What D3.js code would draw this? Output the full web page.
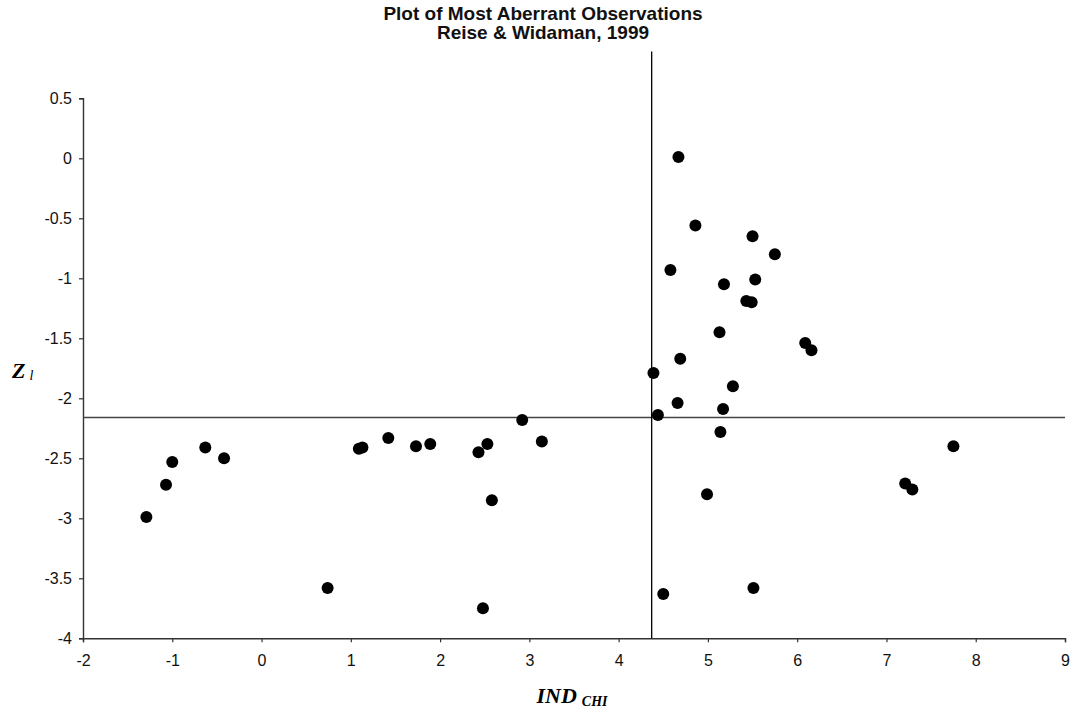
<!DOCTYPE html>
<html>
<head>
<meta charset="utf-8">
<script src="https://cdn.jsdelivr.net/npm/d3@7"></script>
<style>
  body { margin: 0; background: #fff; }
  svg { display: block; }
  .tick text { font-family: "Liberation Sans", Arial, sans-serif; font-size: 16px; fill: #111; }
</style>
</head>
<body>
<script>
// observations (IND chi, Z l)
var indChi = [-1.29, -1.07, -1.00, -0.63, -0.42, 0.74, 1.09, 1.13, 1.42, 1.73, 1.89, 2.43, 2.53, 2.58, 2.48, 2.92, 3.14,
              4.39, 5.28, 4.66, 5.17, 4.44, 5.14, 7.75, 7.21, 7.29, 4.99, 5.51, 4.50,
              4.67, 4.86, 5.50, 5.75, 4.58, 5.18, 5.53, 5.43, 5.49, 5.13, 6.09, 6.16, 4.69];
var zl = [-2.99, -2.72, -2.53, -2.41, -2.50, -3.58, -2.42, -2.41, -2.33, -2.40, -2.38, -2.45, -2.38, -2.85, -3.75, -2.18, -2.36,
          -1.79, -1.90, -2.04, -2.09, -2.14, -2.28, -2.40, -2.71, -2.76, -2.80, -3.58, -3.63,
          0.01, -0.56, -0.65, -0.80, -0.93, -1.05, -1.01, -1.19, -1.20, -1.45, -1.54, -1.60, -1.67];

var xTicks = [-2, -1, 0, 1, 2, 3, 4, 5, 6, 7, 8, 9];
var yTicks = [0.5, 0, -0.5, -1, -1.5, -2, -2.5, -3, -3.5, -4];

// cut-off lines
var cutX = 4.37, cutY = -2.16, cutTop = 0.89;

var W = 1074, H = 717;
var x = d3.scaleLinear().domain([-2, 9]).range([83, 1065]);
var y = d3.scaleLinear().domain([-4, 0.5]).range([638.3, 98.3]);

var svg = d3.select("body").append("svg")
    .attr("width", W)
    .attr("height", H);

// axes
var fmt = function(d){ return String(d); };   // plain hyphen, like the original
var xAxis = svg.append("g")
    .attr("transform", "translate(0," + y(-4) + ")")
    .call(d3.axisBottom(x).tickValues(xTicks).tickSize(4).tickPadding(12).tickFormat(fmt));
var yAxis = svg.append("g")
    .attr("transform", "translate(" + x(-2) + ",0)")
    .call(d3.axisLeft(y).tickValues(yTicks).tickSize(4).tickPadding(7).tickFormat(fmt));

svg.selectAll(".domain").attr("stroke", "#333").attr("stroke-width", 1.4);
svg.selectAll(".tick line").attr("stroke", "#333").attr("stroke-width", 1.2);

// reference lines
svg.append("line")
    .attr("x1", x(-2)).attr("x2", x(9))
    .attr("y1", y(cutY)).attr("y2", y(cutY))
    .attr("stroke", "#444").attr("stroke-width", 1.3);
svg.append("line")
    .attr("x1", x(cutX)).attr("x2", x(cutX))
    .attr("y1", y(cutTop)).attr("y2", y(-4))
    .attr("stroke", "#000").attr("stroke-width", 1.3);

// points
var pts = indChi.map(function(v, i){ return {x: v, y: zl[i]}; });
svg.append("g").selectAll("circle")
    .data(pts).enter()
    .append("circle")
    .attr("cx", function(d){ return x(d.x); })
    .attr("cy", function(d){ return y(d.y); })
    .attr("r", 6)
    .attr("fill", "#000");

// title
var title = svg.append("text")
    .attr("text-anchor", "middle")
    .style("font-family", "'Liberation Sans', Arial, sans-serif")
    .style("font-weight", "bold").style("font-size", "19px")
    .style("fill", "#111");
title.append("tspan").attr("x", 543).attr("y", 20).text("Plot of Most Aberrant Observations");
title.append("tspan").attr("x", 543).attr("y", 39).text("Reise & Widaman, 1999");

// axis titles
var yl = svg.append("text")
    .attr("x", 12).attr("y", 378)
    .style("font-family", "'Liberation Serif', 'Times New Roman', serif")
    .style("font-style", "italic").style("font-weight", "bold");
yl.append("tspan").style("font-size", "22px").text("Z");
yl.append("tspan").attr("dx", 4).attr("dy", 2).style("font-size", "14px").style("font-weight", "normal").text("l");

var xl = svg.append("text")
    .attr("x", 572).attr("y", 703).attr("text-anchor", "middle")
    .style("font-family", "'Liberation Serif', 'Times New Roman', serif")
    .style("font-style", "italic").style("font-weight", "bold");
xl.append("tspan").style("font-size", "22px").text("IND");
xl.append("tspan").attr("dx", 5).attr("dy", 3).style("font-size", "14px").text("CHI");
</script>
</body>
</html>
